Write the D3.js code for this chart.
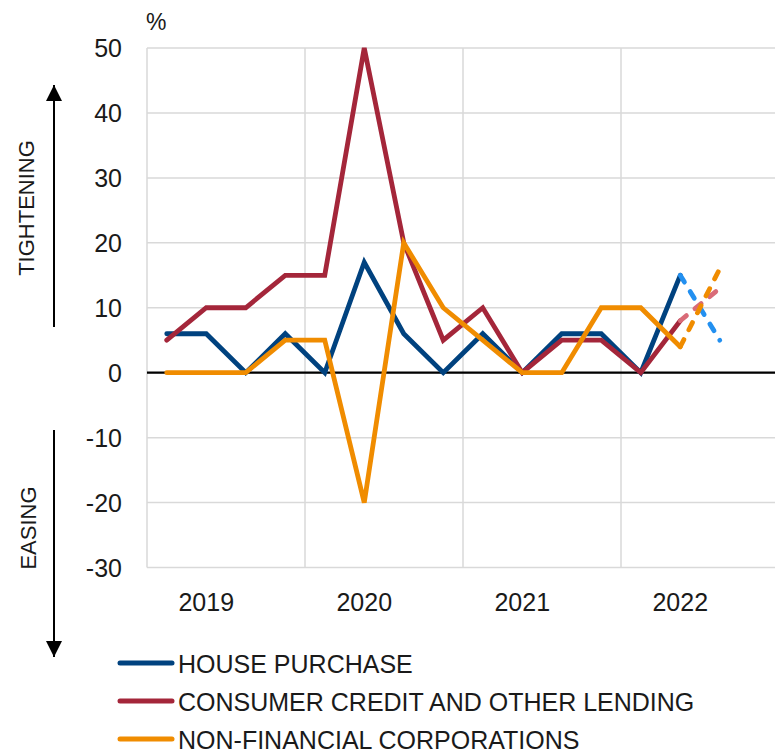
<!DOCTYPE html>
<html>
<head>
<meta charset="utf-8">
<script src="https://cdn.jsdelivr.net/npm/d3@7"></script>
<style>
  body { margin: 0; background: #fff; }
  text { font-family: "Liberation Sans", Arial, sans-serif; fill: #1a1a1a; }
</style>
</head>
<body>
<svg id="chart" width="775" height="755"></svg>
<script>
// quarterly survey, 2019Q1 .. 2022Q4
const quarters = ['2019Q1','2019Q2','2019Q3','2019Q4','2020Q1','2020Q2','2020Q3','2020Q4',
                  '2021Q1','2021Q2','2021Q3','2021Q4','2022Q1','2022Q2','2022Q3','2022Q4'];
const yearLabels = ['2019', '2020', '2021', '2022'];
const yTicks = [-30, -20, -10, 0, 10, 20, 30, 40, 50];

const house    = [6, 6, 0, 6, 0, 17, 6, 0, 6, 0, 6, 6, 0, 15, null, null];
const consumer = [5, 10, 10, 15, 15, 50, 20, 5, 10, 0, 5, 5, 0, 8, null, null];
const nfc      = [0, 0, 0, 5, 5, -20, 20, 10, 5, 0, 0, 10, 10, 4, null, null];

// expectations (dashed)
const houseExp    = [null, null, null, null, null, null, null, null, null, null, null, null, null, 15, 5, null];
const consumerExp = [null, null, null, null, null, null, null, null, null, null, null, null, null, 8, 13, null];
const nfcExp      = [null, null, null, null, null, null, null, null, null, null, null, null, null, 4, 16, null];

const seriesNames = ['HOUSE PURCHASE', 'CONSUMER CREDIT AND OTHER LENDING', 'NON-FINANCIAL CORPORATIONS'];
const colors = { house: '#00427f', consumer: '#a4263a', nfc: '#f08c00' };
const expColors = { house: '#2390f0', consumer: '#d96b78', nfc: '#f08c00' };

const svg = d3.select('#chart');
const plotLeft = 147, plotRight = 779, plotTop = 48, plotBottom = 567.5;

const x = d3.scaleBand().domain(quarters).range([plotLeft, plotRight]);
const y = d3.scaleLinear().domain([-30, 50]).range([plotBottom, plotTop]);
const cx = q => x(q) + x.bandwidth() / 2;

// grid
svg.append('g').selectAll('line').data(yTicks).enter().append('line')
  .attr('x1', plotLeft).attr('x2', plotRight)
  .attr('y1', d => y(d)).attr('y2', d => y(d))
  .style('stroke', '#d9d9d9').style('stroke-width', 1.5);

const yearStarts = quarters.filter((q, i) => i % 4 === 0);
svg.append('g').selectAll('line').data(yearStarts).enter().append('line')
  .attr('x1', d => x(d)).attr('x2', d => x(d))
  .attr('y1', plotTop).attr('y2', plotBottom)
  .style('stroke', '#d9d9d9').style('stroke-width', 1.5);

// zero line
svg.append('line').attr('x1', plotLeft).attr('x2', plotRight).attr('y1', y(0)).attr('y2', y(0))
  .style('stroke', '#000').style('stroke-width', 2.2);

// y axis labels
svg.append('g').selectAll('text').data(yTicks).enter().append('text')
  .attr('x', 122).attr('y', d => y(d) + 9)
  .attr('text-anchor', 'end').style('font-size', '25px')
  .text(d => d);

svg.append('text').attr('x', 146).attr('y', 30).style('font-size', '23px').text('%');

// x axis labels at second quarter of each year
svg.append('g').selectAll('text').data(yearLabels).enter().append('text')
  .attr('x', d => cx(d + 'Q2')).attr('y', 611)
  .attr('text-anchor', 'middle').style('font-size', '25px')
  .text(d => d);

// arrows + side labels
svg.append('defs').append('marker').attr('id', 'head')
  .attr('viewBox', '0 0 10 10').attr('refX', 10).attr('refY', 5)
  .attr('markerWidth', 16).attr('markerHeight', 16).attr('markerUnits', 'userSpaceOnUse')
  .attr('orient', 'auto')
  .append('path').attr('d', 'M0,0 L10,5 L0,10 Z').style('fill', '#000');

svg.append('line').attr('x1', 54).attr('x2', 54).attr('y1', 327).attr('y2', 85)
  .style('stroke', '#000').style('stroke-width', 2).attr('marker-end', 'url(#head)');
svg.append('line').attr('x1', 54).attr('x2', 54).attr('y1', 430).attr('y2', 657)
  .style('stroke', '#000').style('stroke-width', 2).attr('marker-end', 'url(#head)');

svg.append('text').attr('transform', 'translate(34,208) rotate(-90)')
  .attr('text-anchor', 'middle').style('font-size', '22px').text('TIGHTENING');
svg.append('text').attr('transform', 'translate(36,528) rotate(-90)')
  .attr('text-anchor', 'middle').style('font-size', '22px').text('EASING');

// lines
const line = d3.line()
  .defined(d => d.v !== null)
  .x(d => cx(d.q)).y(d => y(d.v));
const toPts = arr => arr.map((v, i) => ({ q: quarters[i], v }));

const solid = [[house, colors.house], [consumer, colors.consumer], [nfc, colors.nfc]];
solid.forEach(([arr, c]) => {
  svg.append('path').datum(toPts(arr)).attr('d', line)
    .style('fill', 'none').style('stroke', c).style('stroke-width', 4.8)
    .style('stroke-linejoin', 'miter').style('stroke-linecap', 'round');
});

const dashed = [[houseExp, expColors.house], [consumerExp, expColors.consumer], [nfcExp, expColors.nfc]];
dashed.forEach(([arr, c]) => {
  svg.append('path').datum(toPts(arr)).attr('d', line)
    .style('fill', 'none').style('stroke', c).style('stroke-width', 4.8)
    .style('stroke-dasharray', '8,11').style('stroke-linecap', 'round');
});

// legend
const legendColors = [colors.house, colors.consumer, colors.nfc];
const legend = svg.append('g').selectAll('g').data(seriesNames).enter().append('g')
  .attr('transform', (d, i) => `translate(0, ${663 + i * 38})`);
legend.append('line').attr('x1', 120).attr('x2', 172).attr('y1', 0).attr('y2', 0)
  .style('stroke', (d, i) => legendColors[i]).style('stroke-width', 5).style('stroke-linecap', 'round');
legend.append('text').attr('x', 178).attr('y', 10).style('font-size', '25px').text(d => d);
</script>
</body>
</html>
